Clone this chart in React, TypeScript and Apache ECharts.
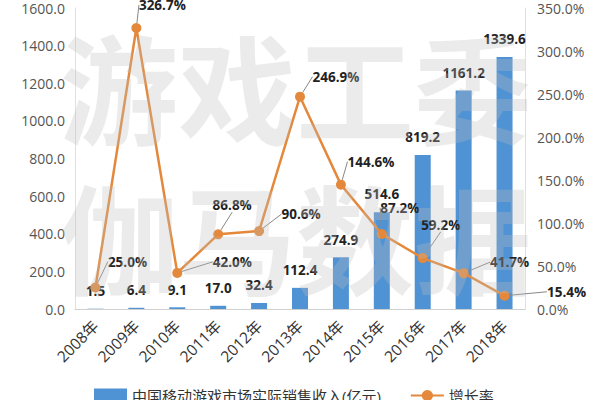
import React, { useEffect, useRef } from "react";
import * as echarts from "echarts";

const categories = ["2008年", "2009年", "2010年", "2011年", "2012年", "2013年", "2014年", "2015年", "2016年", "2017年", "2018年"];
const revenue = [1.5, 6.4, 9.1, 17.0, 32.4, 112.4, 274.9, 514.6, 819.2, 1161.2, 1339.6];
const growth = [25.0, 326.7, 42.0, 86.8, 90.6, 246.9, 144.6, 87.2, 59.2, 41.7, 15.4];
const growthLabelShift: number[][] = [
  [32, -26], [26, -23], [55, -11], [14, -29], [42, -17], [36, -20], [30, -23], [18, -26], [18, -33], [46, -11], [62, -4],
];
const barName = "中国移动游戏市场实际销售收入(亿元)";
const lineName = "增长率";

export default function App() {
  const ref = useRef<HTMLDivElement>(null);
  useEffect(() => {
    const chart = echarts.init(ref.current!, null, { renderer: "svg" });
    chart.setOption({
      animation: false,
      backgroundColor: "#ffffff",
      textStyle: { fontFamily: "Open Sans, Noto Sans CJK SC, sans-serif" },
      grid: { left: 75, right: 75, top: 8, bottom: 91, containLabel: false },
      legend: {
        top: 383,
        left: 89,
        itemGap: 29,
        itemWidth: 33,
        itemHeight: 14,
        textStyle: { fontSize: 15, color: "#333" },
        data: [
          { name: barName, icon: "rect" },
          { name: lineName },
        ],
      },
      xAxis: {
        type: "category",
        data: categories,
        axisLine: { lineStyle: { color: "#d0d0d0" } },
        axisTick: { show: false },
        axisLabel: { rotate: 45, fontSize: 15.5, color: "#333", interval: 0, margin: 14 },
      },
      yAxis: [
        {
          type: "value",
          min: 0,
          max: 1600,
          interval: 200,
          axisLine: { show: true, lineStyle: { color: "#e0e0e0" } },
          splitLine: { show: false },
          axisLabel: { fontSize: 14, color: "#555", formatter: (v: number) => v.toFixed(1), margin: 10 },
        },
        {
          type: "value",
          min: 0,
          max: 350,
          interval: 50,
          axisLine: { show: true, lineStyle: { color: "#e0e0e0" } },
          splitLine: { show: false },
          axisLabel: { fontSize: 14, color: "#555", formatter: (v: number) => v.toFixed(1) + "%", margin: 12 },
        },
      ],
      graphic: [
        {
          type: "text",
          left: 60,
          top: 25,
          z: 100,
          style: { text: "游戏工委", font: "bold 118px Noto Sans CJK SC", fill: "rgba(190,190,190,0.3)" },
        },
        {
          type: "text",
          left: 60,
          top: 175,
          z: 100,
          style: { text: "伽马数据", font: "bold 118px Noto Sans CJK SC", fill: "rgba(190,190,190,0.3)" },
        },
      ],
      series: [
        {
          name: barName,
          type: "bar",
          data: revenue,
          barWidth: 16,
          itemStyle: { color: "#4f93d4" },
          label: {
            show: true,
            position: "top",
            distance: 11,
            fontSize: 13.5,
            fontWeight: "bold",
            color: "#222",
            formatter: (p: any) => p.value.toFixed(1),
          },
        },
        {
          name: lineName,
          type: "line",
          yAxisIndex: 1,
          data: growth,
          symbol: "circle",
          symbolSize: 10,
          lineStyle: { color: "#e4893c", width: 2.5 },
          itemStyle: { color: "#e4893c" },
          label: {
            show: true,
            position: "inside",
            fontSize: 13.5,
            fontWeight: "bold",
            color: "#222",
            formatter: (p: any) => p.value.toFixed(1) + "%",
          },
          labelLine: { show: true, lineStyle: { color: "#888", width: 1 } },
          labelLayout: (params: any) => {
            const s = growthLabelShift[params.dataIndex];
            return { dx: s[0], dy: s[1] };
          },
        },
      ],
    });
    return () => chart.dispose();
  }, []);
  return <div ref={ref} style={{ width: 600, height: 400, position: "absolute", left: 0, top: 0 }} />;
}
